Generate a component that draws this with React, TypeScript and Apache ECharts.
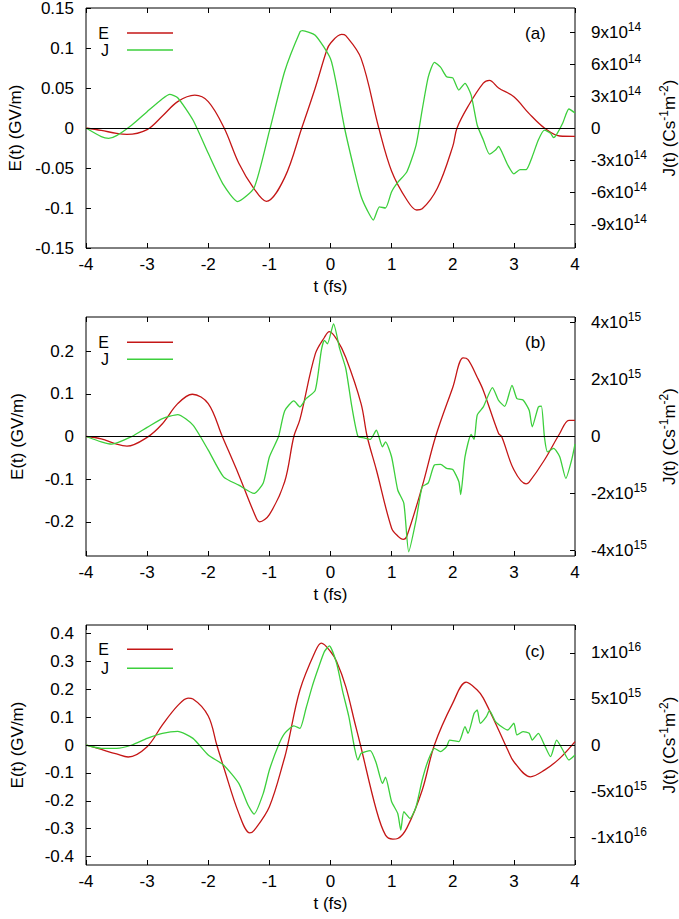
import React, { useEffect, useRef } from "react";
import * as echarts from "echarts";

const FONT = "'Liberation Sans', Arial, Helvetica, sans-serif";
const FS = 17;
const RED = "#c41616";
const GREEN = "#3ccf3c";

// ---- tick values ----
const xTicks = [-4, -3, -2, -1, 0, 1, 2, 3, 4];
const eTicksA = [-0.15, -0.1, -0.05, 0, 0.05, 0.1, 0.15];
const eTicksB = [-0.2, -0.1, 0, 0.1, 0.2];
const eTicksC = [-0.4, -0.3, -0.2, -0.1, 0, 0.1, 0.2, 0.3, 0.4];
const jTicksA = [-9, -6, -3, 0, 3, 6, 9]; // x1e14
const jTicksB = [-4, -2, 0, 2, 4]; // x1e15
const jTicksC = [-10, -5, 0, 5, 10]; // x1e15

// ---- panel (a) ----
const tEa = [-4, -3.75, -3.5, -3.33, -3.0, -2.75, -2.5, -2.22, -2.0, -1.74, -1.5, -1.25, -1.05, -0.75, -0.47, -0.25, -0.06, 0, 0.18, 0.25, 0.5, 0.79, 1.0, 1.25, 1.41, 1.5, 1.75, 2.0, 2.07, 2.25, 2.5, 2.6, 2.75, 3.0, 3.25, 3.5, 3.75, 4.0];
const Ea = [0, -0.003, -0.0067, -0.008, -0.002, 0.015, 0.033, 0.041, 0.033, 0, -0.044, -0.076, -0.0917, -0.062, 0, 0.05, 0.0975, 0.106, 0.117, 0.1155, 0.087, 0, -0.054, -0.09, -0.1025, -0.101, -0.075, -0.023, 0, 0.027, 0.056, 0.0596, 0.05, 0.039, 0.018, 0, -0.01, -0.0104];
const tJa = [-4, -3.75, -3.63, -3.5, -3.25, -3.0, -2.75, -2.63, -2.5, -2.25, -2.0, -1.75, -1.52, -1.25, -1.0, -0.75, -0.5, -0.46, -0.25, 0, 0.1, 0.23, 0.4, 0.5, 0.6, 0.7, 0.8, 0.9, 1.0, 1.1, 1.25, 1.4, 1.5, 1.6, 1.7, 1.8, 1.9, 2.0, 2.1, 2.2, 2.3, 2.4, 2.5, 2.6, 2.7, 2.75, 2.8, 2.9, 3.0, 3.1, 3.2, 3.3, 3.4, 3.5, 3.6, 3.65, 3.7, 3.8, 3.9, 4.0];
const Ja = [0, -0.81, -0.97, -0.72, 0.28, 1.53, 2.75, 3.16, 2.84, 0.75, -2.37, -5.34, -6.9, -5.6, -0.3, 5.3, 9.0, 9.12, 8.7, 6.5, 4.0, 0, -4.2, -6.4, -7.7, -8.63, -7.4, -7.5, -5.97, -5.1, -4.1, -1.6, 1.7, 4.8, 6.16, 5.7, 4.8, 4.7, 3.56, 4.19, 3.1, 0.28, -1.12, -2.44, -2.06, -1.72, -2.2, -3.47, -4.31, -3.9, -3.9, -2.69, -1.12, -0.2, -0.5, -0.9, -0.6, 0.47, 1.78, 1.4];

// ---- panel (b) ----
const tEb = [-4, -3.75, -3.5, -3.33, -3.0, -2.75, -2.5, -2.26, -2.0, -1.77, -1.5, -1.25, -1.16, -1.0, -0.75, -0.6, -0.5, -0.25, -0.1, -0.02, 0.1, 0.25, 0.5, 0.6, 0.75, 1.0, 1.1, 1.19, 1.25, 1.5, 1.72, 2.0, 2.17, 2.25, 2.4, 2.5, 2.75, 2.8, 3.0, 3.2, 3.25, 3.5, 3.75, 3.9, 4.0];
const Eb = [0, -0.0055, -0.018, -0.0226, -0.002, 0.03, 0.077, 0.099, 0.077, 0, -0.09, -0.179, -0.2, -0.183, -0.106, 0, 0.04, 0.193, 0.232, 0.2456, 0.228, 0.185, 0.077, 0, -0.078, -0.215, -0.233, -0.241, -0.233, -0.117, 0, 0.115, 0.184, 0.18, 0.139, 0.108, 0.007, 0, -0.078, -0.111, -0.107, -0.055, 0.007, 0.038, 0.038];
const tJb = [-4, -3.75, -3.58, -3.25, -3.0, -2.75, -2.5, -2.25, -2.0, -1.75, -1.5, -1.25, -1.1, -1.0, -0.85, -0.75, -0.6, -0.5, -0.4, -0.25, -0.15, -0.1, -0.05, 0.05, 0.15, 0.25, 0.35, 0.45, 0.55, 0.65, 0.75, 0.85, 0.9, 1.0, 1.1, 1.2, 1.28, 1.4, 1.5, 1.6, 1.7, 1.8, 1.9, 2.0, 2.1, 2.13, 2.2, 2.3, 2.35, 2.4, 2.5, 2.65, 2.75, 2.85, 2.97, 3.05, 3.15, 3.25, 3.3, 3.4, 3.45, 3.5, 3.55, 3.65, 3.75, 3.85, 3.95, 4.0];
const Jb = [0, -0.19, -0.27, 0, 0.32, 0.63, 0.77, 0.4, -0.48, -1.42, -1.71, -2.0, -1.63, -0.72, 0, 0.9, 1.25, 1.04, 1.33, 1.62, 3.03, 3.38, 3.26, 3.96, 3.09, 2.39, 1.04, 0, -0.05, -0.1, 0.22, -0.36, -0.19, -0.72, -1.88, -2.35, -4.05, -2.94, -1.77, -1.63, -1.0, -0.98, -1.12, -1.16, -1.59, -2.04, -0.72, 0.07, -0.1, 0.75, 1.04, 1.72, 1.27, 1.06, 1.8, 1.33, 1.28, 0.92, 0.34, 1.04, 1.07, -0.02, -0.54, -0.42, -0.71, -1.47, -0.78, -0.27];

// ---- panel (c) ----
const tEc = [-4, -3.75, -3.5, -3.31, -3.0, -2.75, -2.5, -2.33, -2.25, -2.0, -1.86, -1.75, -1.5, -1.32, -1.25, -1.0, -0.75, -0.7, -0.5, -0.25, -0.15, 0, 0.1, 0.25, 0.4, 0.49, 0.75, 0.9, 1.02, 1.1, 1.25, 1.5, 1.7, 2.0, 2.22, 2.4, 2.5, 2.75, 2.9, 3.0, 3.27, 3.5, 3.75, 4.0];
const Ec = [0, -0.016, -0.032, -0.043, -0.006, 0.072, 0.141, 0.168, 0.165, 0.104, 0, -0.078, -0.245, -0.315, -0.306, -0.221, -0.045, 0, 0.197, 0.335, 0.365, 0.335, 0.299, 0.209, 0.078, 0, -0.233, -0.323, -0.337, -0.335, -0.297, -0.162, 0, 0.15, 0.225, 0.197, 0.168, 0.054, -0.018, -0.06, -0.114, -0.09, -0.048, 0.012];
const tJc = [-4, -3.75, -3.5, -3.25, -3.0, -2.75, -2.5, -2.25, -2.0, -1.75, -1.5, -1.35, -1.25, -1.1, -1.0, -0.85, -0.75, -0.6, -0.5, -0.4, -0.3, -0.2, -0.1, -0.02, 0.1, 0.2, 0.3, 0.4, 0.45, 0.5, 0.65, 0.75, 0.85, 0.9, 1.0, 1.1, 1.15, 1.2, 1.3, 1.4, 1.5, 1.6, 1.7, 1.8, 1.9, 1.95, 2.1, 2.2, 2.25, 2.35, 2.4, 2.45, 2.55, 2.6, 2.7, 2.8, 2.9, 3.0, 3.05, 3.15, 3.25, 3.3, 3.4, 3.5, 3.6, 3.7, 3.8, 3.9, 4.0];
const Jc = [0, -0.36, -0.36, 0, 0.72, 1.27, 1.49, 0.72, -1.09, -2.17, -4.17, -6.52, -7.5, -5.25, -2.72, 0, 1.27, 2.07, 1.81, 3.99, 6.34, 8.33, 10.14, 10.76, 8.88, 5.8, 3.08, -0.54, -1.63, -0.9, -0.6, -2.0, -4.17, -3.5, -6.16, -7.43, -9.24, -7.25, -7.97, -6.7, -3.8, -1.63, -0.36, -0.72, -0.18, 0.54, 0.36, 1.99, 1.27, 3.44, 3.8, 2.36, 3.08, 3.73, 2.54, 1.99, 1.63, 2.36, 1.09, 1.45, 1.27, 0.54, 1.27, 0, -1.27, 0.54, -0.54, -1.63, -1.09];

const pairs = (t: number[], v: number[]) => t.map((x, i) => [x, v[i]]);
const fmtE = (v: number) => String(Number(v.toFixed(2)));
const fmtA = (v: number) => (v === 0 ? "0" : `${v}x10{sup|14}`);
const fmtB = (v: number) => (v === 0 ? "0" : `${v}x10{sup|15}`);
const fmtC = (v: number) =>
  v === 0 ? "0" : Math.abs(v) === 10 ? `${v / 10}x10{sup|16}` : `${v}x10{sup|15}`;

const supStyle = { fontSize: 12, lineHeight: 12, verticalAlign: "top", color: "#000", fontFamily: FONT };

function buildOption() {
  const panels = [
    { top: 8, height: 240, eMax: 0.15, eTicks: eTicksA, jMax: 11.25, jTicks: jTicksA, jFmt: fmtA, tag: "(a)", E: pairs(tEa, Ea), J: pairs(tJa, Ja), legTop: 25, legGap: 1, tagY: 33 },
    { top: 317, height: 239, eMax: 0.28, eTicks: eTicksB, jMax: 4.2, jTicks: jTicksB, jFmt: fmtB, tag: "(b)", E: pairs(tEb, Eb), J: pairs(tJb, Jb), legTop: 334.3, legGap: 1, tagY: 342 },
    { top: 625, height: 240, eMax: 0.43, eTicks: eTicksC, jMax: 13.03, jTicks: jTicksC, jFmt: fmtC, tag: "(c)", E: pairs(tEc, Ec), J: pairs(tJc, Jc), legTop: 641.3, legGap: 3, tagY: 651 },
  ];
  const grid: any[] = [];
  const xAxis: any[] = [];
  const yAxis: any[] = [];
  const series: any[] = [];
  const legend: any[] = [];
  const graphic: any[] = [];
  const tickStyle = { lineStyle: { color: "#000", width: 1 } };
  const noLine = { show: false, onZero: false };
  panels.forEach((p, i) => {
    grid.push({
      left: 86, top: p.top, width: 489, height: p.height, show: true, borderColor: "#000",
      borderWidth: 1, backgroundColor: "transparent", containLabel: false, outerBoundsMode: "none",
    });
    xAxis.push({
      type: "value", gridIndex: i, position: "bottom", min: -4, max: 4, interval: 1,
      axisLine: noLine, splitLine: { show: false },
      axisTick: { inside: true, length: 5, customValues: xTicks, ...tickStyle },
      axisLabel: { customValues: xTicks, fontSize: FS, color: "#000", margin: 8, fontFamily: FONT },
      name: "t (fs)", nameLocation: "middle", nameGap: 30,
      nameTextStyle: { fontSize: FS, color: "#000", fontFamily: FONT },
    });
    xAxis.push({
      type: "value", gridIndex: i, position: "top", min: -4, max: 4, interval: 1,
      axisLine: noLine, splitLine: { show: false },
      axisTick: { inside: true, length: 5, customValues: xTicks, ...tickStyle },
      axisLabel: { show: false },
    });
    yAxis.push({
      type: "value", gridIndex: i, position: "left", min: -p.eMax, max: p.eMax,
      axisLine: noLine, splitLine: { show: false },
      axisTick: { inside: true, length: 5, customValues: p.eTicks, ...tickStyle },
      axisLabel: { customValues: p.eTicks, formatter: fmtE, fontSize: FS, color: "#000", margin: 12, fontFamily: FONT },
      name: "E(t) (GV/m)", nameLocation: "middle", nameGap: 60,
      nameTextStyle: { fontSize: FS, color: "#000", fontFamily: FONT },
    });
    yAxis.push({
      type: "value", gridIndex: i, position: "right", min: -p.jMax, max: p.jMax,
      axisLine: noLine, splitLine: { show: false },
      axisTick: { inside: true, length: 5, customValues: p.jTicks, ...tickStyle },
      axisLabel: {
        customValues: p.jTicks, formatter: p.jFmt, fontSize: FS, color: "#000", margin: 16,
        fontFamily: FONT, lineHeight: 23, rich: { sup: supStyle },
      },
      name: "J(t) (Cs{sup|-1}m{sup|-2})", nameLocation: "middle", nameGap: 77, nameRotate: 90,
      nameTextStyle: { fontSize: FS, color: "#000", fontFamily: FONT, lineHeight: 23, rich: { sup: supStyle } },
    });
    series.push({
      name: "E", type: "line", xAxisIndex: 2 * i, yAxisIndex: 2 * i, data: p.E,
      showSymbol: false, smooth: 0.35, color: RED, itemStyle: { color: RED },
      lineStyle: { color: RED, width: 1.3 }, z: 3,
      markLine: {
        silent: true, symbol: ["none", "none"], label: { show: false },
        lineStyle: { color: "#000", width: 1, type: "solid" }, data: [{ yAxis: 0 }],
      },
    });
    series.push({
      name: "J", type: "line", xAxisIndex: 2 * i, yAxisIndex: 2 * i + 1, data: p.J,
      showSymbol: false, smooth: 0.2, color: GREEN, itemStyle: { color: GREEN },
      lineStyle: { color: GREEN, width: 1.3 }, z: 4,
    });
    legend.push({
      top: p.legTop, left: 97, orient: "vertical", align: "right", data: ["E", "J"],
      icon: "rect", itemWidth: 46, itemHeight: 1.5, itemGap: p.legGap, padding: 0,
      selectedMode: false,
      textStyle: { fontSize: 16, color: "#000", fontFamily: FONT, lineHeight: 16, width: 12, align: "right", padding: [0, 13, 0, 0] },
    });
    graphic.push({
      type: "text", x: 525, y: p.tagY,
      style: { text: p.tag, fontSize: FS, fontFamily: FONT, fill: "#000", align: "left", verticalAlign: "middle" },
    });
  });
  return {
    animation: false,
    backgroundColor: "#fff",
    textStyle: { fontFamily: FONT },
    grid, xAxis, yAxis, series, legend, graphic,
  };
}

export default function App() {
  const ref = useRef<HTMLDivElement>(null);
  useEffect(() => {
    const chart = echarts.init(ref.current!, null, { renderer: "svg" });
    chart.setOption(buildOption() as any);
    return () => chart.dispose();
  }, []);
  return (
    <div
      ref={ref}
      style={{ position: "fixed", left: 0, top: 0, width: 679, height: 919, background: "#fff" }}
    />
  );
}
